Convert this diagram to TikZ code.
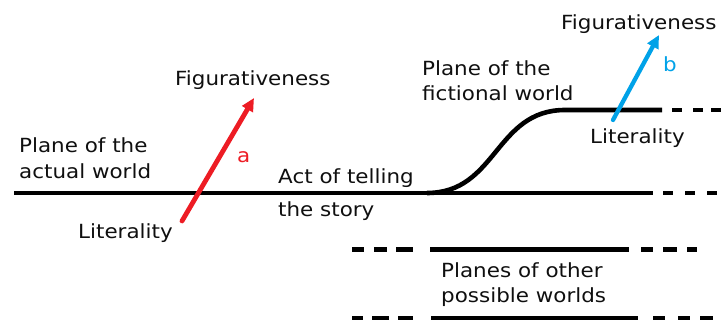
\documentclass[tikz,border=0pt]{standalone}
\usepackage{fontspec}
\setmainfont[FakeStretch=1.1]{DejaVu Sans}
\usetikzlibrary{arrows.meta}
\definecolor{redarrow}{RGB}{237,28,36}
\definecolor{bluearrow}{RGB}{0,162,232}
\definecolor{txt}{RGB}{15,15,15}
\tikzset{
  lbl/.style={anchor=base west, inner sep=0pt, font=\fontsize{19.5}{25}\selectfont, text=txt},
  plane/.style={line width=4.6pt, black},
  arr/.style={line width=4.8pt, line cap=round, -{Triangle[length=13pt,width=12pt]}}
}
\begin{document}
\begin{tikzpicture}[x=1pt,y=-1pt]
\useasboundingbox (0,0) rectangle (721,321);
% actual world plane
\draw[plane] (14,193) -- (653,193);
\draw[plane] (663,193) -- (673,193) (685,193) -- (695,193) (707,193) -- (717,193);
% fictional plane with curve
\draw[plane] (427,193) .. controls (497,193) and (495,110) .. (565,110) -- (662,110);
\draw[plane] (672,110) -- (682,110) (693,110) -- (703,110) (711,110) -- (721,110);
% other worlds planes
\draw[plane] (352,249.5) -- (364,249.5) (374,249.5) -- (387,249.5) (396,249.5) -- (413,249.5);
\draw[plane] (430,249.5) -- (629,249.5);
\draw[plane] (641,249.5) -- (653,249.5) (663,249.5) -- (677,249.5) (687,249.5) -- (697,249.5);
\draw[plane] (352,318) -- (363,318) (372,318) -- (389,318) (398,318) -- (413,318);
\draw[plane] (431,318) -- (638,318);
\draw[plane] (653,318) -- (665,318) (678,318) -- (690,318) (700,318) -- (713,318);
% arrows
\coordinate (ra) at (182,221);
\coordinate (rb) at (254,98);
\coordinate (ba) at (613,120);
\coordinate (bb) at (659,35);
\draw[arr, redarrow] (ra) -- (rb);
\draw[arr, bluearrow, line width=4.3pt] (ba) -- (bb);
% labels
\node[lbl] (pa1) at (19,153) {Plane of the};
\node[lbl] (pa2) at (19,178) {actual world};
\node[lbl] (lit1) at (78,238) {Literality};
\node[lbl] (fig1) at (175,86) {Figurativeness};
\node[lbl, text=redarrow] (la) at (237,162) {a};
\node[lbl] (act1) at (278,183) {Act of telling};
\node[lbl] (act2) at (278,216) {the story};
\node[lbl] (pf1) at (422,76) {Plane of the};
\node[lbl] (pf2) at (422,101) {fictional world};
\node[lbl] (fig2) at (561,30) {Figurativeness};
\node[lbl, text=bluearrow] (lb) at (663,72) {b};
\node[lbl] (lit2) at (590,143) {Literality};
\node[lbl] (po1) at (441,277) {Planes of other};
\node[lbl] (po2) at (441,302) {possible worlds};
\end{tikzpicture}
\end{document}
